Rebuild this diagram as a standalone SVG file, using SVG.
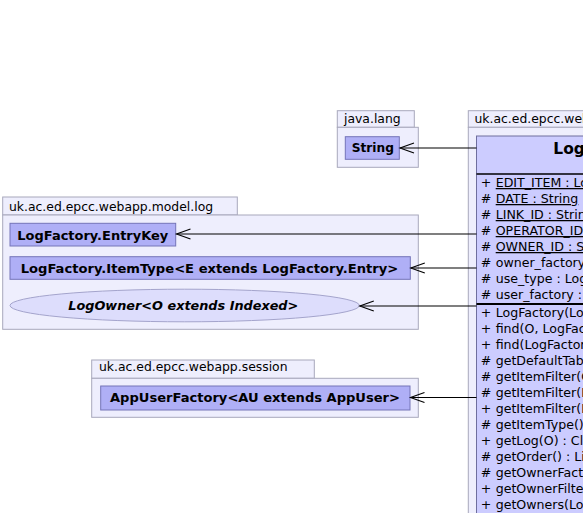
<svg xmlns="http://www.w3.org/2000/svg" width="583" height="513" viewBox="0 0 583 513">
<style>
.pkg{fill:#EEEEFD;stroke:#A8A8BC;stroke-width:1}
.plabel{font-family:"DejaVu Sans",sans-serif;font-size:12.4px;fill:#000}
.cls{fill:#AFAFF6;stroke:#7474B8;stroke-width:1}
.clabel{font-family:"DejaVu Sans",sans-serif;font-size:13px;font-weight:bold;fill:#000;text-anchor:middle}
.big{fill:#CCCCFF;stroke:#6E6E9E;stroke-width:1}
.mem{font-family:"DejaVu Sans",sans-serif;font-size:12.6px;fill:#000}
.u{text-decoration:underline}
.conn{stroke:#000;stroke-width:1.2;fill:none}
</style>
<defs>
<marker id="open" markerUnits="userSpaceOnUse" orient="auto-start-reverse" overflow="visible" refX="0" refY="0" markerWidth="16" markerHeight="12">
<path d="M-14,-5 L0,0 L-14,5" fill="none" stroke="#000" stroke-width="1.1"/>
</marker>
</defs>

<g id="pkg-java-lang">
<rect class="pkg" x="337.3" y="110.7" width="77" height="16.6"/>
<rect class="pkg" x="337.3" y="127.3" width="81" height="40"/>
<text class="plabel" x="344" y="123.3">java.lang</text>
</g>
<g id="String">
<rect class="cls" x="345.3" y="136.7" width="54" height="22.6"/>
<text class="clabel" x="372.8" y="152" textLength="42.3" lengthAdjust="spacingAndGlyphs">String</text>
</g>

<g id="pkg-model-log">
<rect class="pkg" x="2.7" y="197" width="234.6" height="18"/>
<rect class="pkg" x="2.7" y="215" width="415.6" height="114.3"/>
<text class="plabel" x="9" y="210.7">uk.ac.ed.epcc.webapp.model.log</text>
</g>
<g id="EntryKey">
<rect class="cls" x="10" y="223.3" width="165.7" height="22.7"/>
<text class="clabel" x="92.8" y="239.5" textLength="151" lengthAdjust="spacingAndGlyphs">LogFactory.EntryKey</text>
</g>
<g id="ItemType">
<rect class="cls" x="10" y="256.7" width="400.3" height="22.6"/>
<text class="clabel" x="209.5" y="272.8" textLength="377.6" lengthAdjust="spacingAndGlyphs">LogFactory.ItemType&lt;E extends LogFactory.Entry&gt;</text>
</g>
<g id="LogOwner">
<ellipse cx="184.7" cy="305.5" rx="174.7" ry="16.3" fill="#DDDDFC" stroke="#A4A4CC" stroke-width="1"/>
<text class="clabel" x="183.3" y="310.2" font-style="italic" textLength="230" lengthAdjust="spacingAndGlyphs">LogOwner&lt;O extends Indexed&gt;</text>
</g>

<g id="pkg-session">
<rect class="pkg" x="91.7" y="360" width="222.6" height="18.3"/>
<rect class="pkg" x="91.7" y="378.3" width="326.6" height="39"/>
<text class="plabel" x="99" y="371">uk.ac.ed.epcc.webapp.session</text>
</g>
<g id="AppUserFactory">
<rect class="cls" x="100.7" y="386" width="309.3" height="24"/>
<text class="clabel" x="255" y="401.8" textLength="290" lengthAdjust="spacingAndGlyphs">AppUserFactory&lt;AU extends AppUser&gt;</text>
</g>

<g id="pkg-webapp">
<rect class="pkg" x="468.3" y="110.7" width="200" height="16.6"/>
<rect class="pkg" x="468.3" y="127.3" width="200" height="420"/>
<text class="plabel" x="474.5" y="123.3">uk.ac.ed.epcc.webapp.model.log</text>
</g>
<g id="LogFactory">
<rect class="big" x="476.5" y="136" width="200" height="420"/>
<text x="553.3" y="154" font-family="DejaVu Sans, sans-serif" font-size="15.5" font-weight="bold">LogFactory</text>
<line x1="476.5" y1="174" x2="676.5" y2="174" stroke="#000" stroke-width="1.5"/>
<line x1="476.5" y1="304" x2="676.5" y2="304" stroke="#000" stroke-width="2"/>
<g class="mem">
<text x="480.7" y="187">+</text><text class="u" x="495.7" y="187">EDIT_ITEM : LogFactory</text>
<text x="480.7" y="203">#</text><text class="u" x="495.7" y="203">DATE : String</text>
<text x="480.7" y="219">#</text><text class="u" x="495.7" y="219">LINK_ID : String</text>
<text x="480.7" y="235">#</text><text class="u" x="495.7" y="235">OPERATOR_ID : String</text>
<text x="480.7" y="251">#</text><text class="u" x="495.7" y="251">OWNER_ID : String</text>
<text x="480.7" y="267">#</text><text x="495.7" y="267">owner_factory : LogOwner</text>
<text x="480.7" y="283">#</text><text x="495.7" y="283">use_type : LogFactory</text>
<text x="480.7" y="299">#</text><text x="495.7" y="299">user_factory : AppUserFactory</text>
<text x="480.7" y="317">+</text><text x="495.7" y="317">LogFactory(LogOwner)</text>
<text x="480.7" y="333">+</text><text x="495.7" y="333">find(O, LogFactory)</text>
<text x="480.7" y="349">+</text><text x="495.7" y="349">find(LogFactory)</text>
<text x="480.7" y="365">#</text><text x="495.7" y="365">getDefaultTable()</text>
<text x="480.7" y="381">#</text><text x="495.7" y="381">getItemFilter(O)</text>
<text x="480.7" y="397">#</text><text x="495.7" y="397">getItemFilter(LogFactory)</text>
<text x="480.7" y="413">+</text><text x="495.7" y="413">getItemFilter(LogFactory)</text>
<text x="480.7" y="429">#</text><text x="495.7" y="429">getItemType() : Class</text>
<text x="480.7" y="445">+</text><text x="495.7" y="445">getLog(O) : Closeable</text>
<text x="480.7" y="461">#</text><text x="495.7" y="461">getOrder() : List</text>
<text x="480.7" y="477">#</text><text x="495.7" y="477">getOwnerFactory()</text>
<text x="480.7" y="493">+</text><text x="495.7" y="493">getOwnerFilter()</text>
<text x="480.7" y="509">+</text><text x="495.7" y="509">getOwners(LogFactory)</text>
</g>
</g>

<g id="connectors">
<path class="conn" marker-start="url(#open)" d="M400,148 L476.5,148"/>
<path class="conn" marker-start="url(#open)" d="M176.5,234 L476.5,234"/>
<path class="conn" marker-start="url(#open)" d="M410.8,268 L476.5,268"/>
<path class="conn" marker-start="url(#open)" d="M359.8,306 L476.5,306"/>
<path class="conn" marker-start="url(#open)" d="M410.5,397.5 L476.5,397.5"/>
</g>
</svg>
